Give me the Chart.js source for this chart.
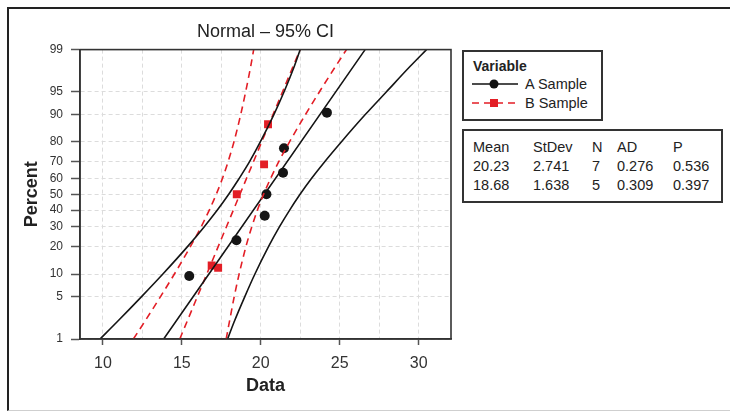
<!DOCTYPE html>
<html>
<head>
<meta charset="utf-8">
<script src="https://cdn.jsdelivr.net/npm/chart.js@4.4.1/dist/chart.umd.min.js"></script>
<style>
html,body{margin:0;padding:0;background:#fff;}
body{width:730px;height:412px;position:relative;overflow:hidden;font-family:"Liberation Sans",Arial,sans-serif;color:#222;}
#frame{position:absolute;left:7px;top:7px;width:760px;height:404px;border-left:2px solid #222;border-top:2px solid #222;border-bottom:1px solid #cfcfcf;box-sizing:border-box;}
#c{position:absolute;left:0;top:0;}
.box{position:absolute;border:2px solid #333;box-sizing:border-box;background:#fff;}
.t{position:absolute;white-space:nowrap;line-height:1;}
</style>
</head>
<body>
<div id="frame"></div>
<canvas id="c" width="730" height="412"></canvas>

<div class="box" id="legend" style="left:462px;top:50px;width:141px;height:71px;">
  <div class="t" style="left:9px;top:7px;font-size:14px;font-weight:bold;">Variable</div>
  <svg style="position:absolute;left:8px;top:25px;" width="46" height="14">
    <line x1="0" y1="7" x2="46" y2="7" stroke="#111" stroke-width="1.6"/>
    <circle cx="22" cy="7" r="4.5" fill="#111"/>
  </svg>
  <div class="t" style="left:61px;top:25px;font-size:14.5px;">A Sample</div>
  <svg style="position:absolute;left:8px;top:44px;" width="46" height="14">
    <line x1="0" y1="7" x2="46" y2="7" stroke="#e31e26" stroke-width="1.6" stroke-dasharray="7,5"/>
    <rect x="18" y="3" width="8" height="8" fill="#e31e26"/>
  </svg>
  <div class="t" style="left:61px;top:44px;font-size:14.5px;">B Sample</div>
</div>

<div class="box" id="stats" style="left:462px;top:129px;width:261px;height:74px;">
  <div class="t" style="left:9px;top:9px;font-size:14.5px;">Mean</div>
  <div class="t" style="left:69px;top:9px;font-size:14.5px;">StDev</div>
  <div class="t" style="left:128px;top:9px;font-size:14.5px;">N</div>
  <div class="t" style="left:153px;top:9px;font-size:14.5px;">AD</div>
  <div class="t" style="left:209px;top:9px;font-size:14.5px;">P</div>
  <div class="t" style="left:9px;top:28px;font-size:14.5px;">20.23</div>
  <div class="t" style="left:69px;top:28px;font-size:14.5px;">2.741</div>
  <div class="t" style="left:128px;top:28px;font-size:14.5px;">7</div>
  <div class="t" style="left:153px;top:28px;font-size:14.5px;">0.276</div>
  <div class="t" style="left:209px;top:28px;font-size:14.5px;">0.536</div>
  <div class="t" style="left:9px;top:47px;font-size:14.5px;">18.68</div>
  <div class="t" style="left:69px;top:47px;font-size:14.5px;">1.638</div>
  <div class="t" style="left:128px;top:47px;font-size:14.5px;">5</div>
  <div class="t" style="left:153px;top:47px;font-size:14.5px;">0.309</div>
  <div class="t" style="left:209px;top:47px;font-size:14.5px;">0.397</div>
</div>

<script>
// ---- Data ----
const percentTicks = [1, 5, 10, 20, 30, 40, 50, 60, 70, 80, 90, 95, 99];
const xTicks = [10, 12.5, 15, 17.5, 20, 22.5, 25, 27.5, 30];

// Sample points
const aValues  = [15.47, 18.46, 20.25, 20.36, 21.41, 21.47, 24.19];
const aPercent = [9.46, 22.97, 36.49, 50, 63.51, 77.03, 90.54];
const bValues  = [16.89, 17.30, 18.48, 20.21, 20.46];
const bPercent = [12.6, 11.9, 50, 68.5, 87.0];

// Fitted lines (endpoints at 1% and 99%)
const fitPercent = [1, 99];
const aFit = [13.85, 26.61];
const bFit = [14.87, 22.49];

// 95% confidence bands
const bandPercent = [1, 2, 5, 10, 20, 30, 40, 50, 60, 70, 80, 90, 95, 98, 99];
const aLower = [9.82, 10.89, 12.45, 13.80, 15.36, 16.41, 17.25, 17.97, 18.63, 19.29, 19.97, 20.83, 21.47, 22.12, 22.50];
const aUpper = [17.90, 18.31, 18.99, 19.63, 20.49, 21.18, 21.83, 22.49, 23.21, 24.05, 25.10, 26.62, 27.95, 29.45, 30.50];
const bLower = [11.93, 12.63, 13.65, 14.53, 15.54, 16.22, 16.74, 17.18, 17.57, 17.93, 18.30, 18.73, 19.04, 19.36, 19.55];
const bUpper = [17.81, 18.01, 18.32, 18.63, 19.06, 19.43, 19.79, 20.18, 20.62, 21.14, 21.82, 22.83, 23.71, 24.73, 25.43];

// ---- Normal probability scale transform ----
function probit(p) {
  const a = [-3.969683028665376e+01, 2.209460984245205e+02, -2.759285104469687e+02, 1.383577518672690e+02, -3.066479806614716e+01, 2.506628277459239e+00];
  const b = [-5.447609879822406e+01, 1.615858368580409e+02, -1.556989798598866e+02, 6.680131188771972e+01, -1.328068155288572e+01];
  const c = [-7.784894002430293e-03, -3.223964580411365e-01, -2.400758277161838e+00, -2.549732539343734e+00, 4.374664141464968e+00, 2.938163982698783e+00];
  const d = [7.784695709041462e-03, 3.224671290700398e-01, 2.445134137142996e+00, 3.754408661907416e+00];
  const pl = 0.02425, ph = 1 - pl;
  let q, r;
  if (p < pl) {
    q = Math.sqrt(-2 * Math.log(p));
    return (((((c[0]*q+c[1])*q+c[2])*q+c[3])*q+c[4])*q+c[5]) / ((((d[0]*q+d[1])*q+d[2])*q+d[3])*q+1);
  } else if (p <= ph) {
    q = p - 0.5; r = q * q;
    return (((((a[0]*r+a[1])*r+a[2])*r+a[3])*r+a[4])*r+a[5])*q / (((((b[0]*r+b[1])*r+b[2])*r+b[3])*r+b[4])*r+1);
  } else {
    q = Math.sqrt(-2 * Math.log(1 - p));
    return -(((((c[0]*q+c[1])*q+c[2])*q+c[3])*q+c[4])*q+c[5]) / ((((d[0]*q+d[1])*q+d[2])*q+d[3])*q+1);
  }
}
const pts = (xs, ps) => xs.map((x, i) => ({ x: x, y: probit(ps[i] / 100) }));

const BLACK = '#151515';
const RED = '#e31e26';
const FONT = '"Liberation Sans", Arial, sans-serif';
Chart.defaults.font.family = FONT;

const curve = (data, color, dash) => ({
  data: data, showLine: true, pointRadius: 0, borderColor: color, borderWidth: 1.6,
  borderDash: dash || [], cubicInterpolationMode: 'monotone', fill: false
});

const framePlugin = {
  id: 'frame',
  afterDatasetsDraw(chart) {
    const { ctx, chartArea: a } = chart;
    ctx.save();
    ctx.strokeStyle = '#333';
    ctx.lineWidth = 1.6;
    ctx.strokeRect(a.left, a.top, a.right - a.left, a.bottom - a.top);
    ctx.restore();
  }
};

const yMax = probit(0.99);

new Chart(document.getElementById('c'), {
  type: 'scatter',
  data: {
    datasets: [
      curve(pts(aLower, bandPercent), BLACK),
      curve(pts(aUpper, bandPercent), BLACK),
      curve(pts(bLower, bandPercent), RED, [7, 5]),
      curve(pts(bUpper, bandPercent), RED, [7, 5]),
      curve(pts(aFit, fitPercent), BLACK),
      curve(pts(bFit, fitPercent), RED, [7, 5]),
      { data: pts(aValues, aPercent), pointStyle: 'circle', pointRadius: 5, backgroundColor: BLACK, borderColor: BLACK, borderWidth: 0, showLine: false },
      { data: pts(bValues, bPercent), pointStyle: 'rect', pointRadius: 5.6, backgroundColor: RED, borderColor: RED, borderWidth: 0, showLine: false }
    ]
  },
  options: {
    responsive: false,
    animation: false,
    devicePixelRatio: 1,
    events: [],
    layout: { padding: { left: 0, right: 279, top: 0, bottom: 0 } },
    plugins: {
      legend: { display: false },
      tooltip: { enabled: false },
      title: {
        display: true, text: 'Normal – 95% CI', fullSize: false, color: '#222',
        font: { size: 18, weight: 'normal' }, padding: { top: 21, bottom: 7 }
      }
    },
    scales: {
      x: {
        type: 'linear', min: 8.55, max: 32.05,
        afterBuildTicks: s => { s.ticks = xTicks.map(v => ({ value: v })); },
        afterFit: s => { s.height = 73; },
        ticks: { callback: v => (v % 5 === 0 ? String(v) : ''), color: '#333', font: { size: 16 }, padding: 9, maxRotation: 0, autoSkip: false },
        grid: {
          color: '#dcdcdc', lineWidth: 1, tickLength: 6, tickWidth: 1.5,
          tickColor: ctx => (ctx.tick && ctx.tick.value % 5 === 0 ? '#555' : 'rgba(0,0,0,0)')
        },
        border: { display: true, color: '#333', width: 1.6, dash: [4, 3] },
        title: { display: true, text: 'Data', color: '#222', font: { size: 18, weight: 'bold' }, padding: { top: 0, bottom: 15 } }
      },
      y: {
        type: 'linear', min: -yMax, max: yMax,
        afterBuildTicks: s => { s.ticks = percentTicks.map(p => ({ value: probit(p / 100) })); },
        afterFit: s => { s.width = 80; },
        ticks: { callback: (v, i) => String(percentTicks[i]), color: '#333', font: { size: 12 }, padding: 8, autoSkip: false },
        grid: { color: '#dcdcdc', lineWidth: 1, tickLength: 9, tickWidth: 1.5, tickColor: '#555' },
        border: { display: true, color: '#333', width: 1.6, dash: [4, 3] },
        title: { display: true, text: 'Percent', color: '#222', font: { size: 18, weight: 'bold' }, padding: { top: 21, bottom: 0 } }
      }
    }
  },
  plugins: [framePlugin]
});
</script>
</body>
</html>
